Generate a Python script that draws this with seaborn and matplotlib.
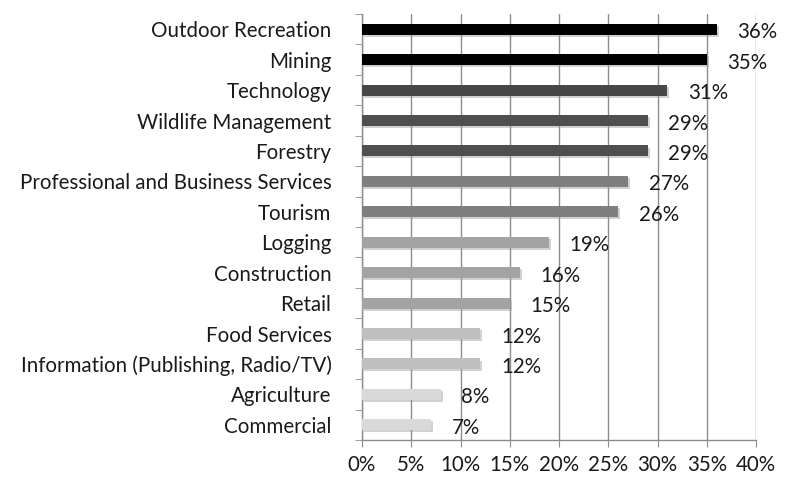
#!/usr/bin/env python3

import numpy as np
import matplotlib
matplotlib.use("Agg")
import matplotlib.pyplot as plt
import matplotlib.patheffects as pe
from matplotlib.ticker import FixedLocator, PercentFormatter
import seaborn as sns

sectors = [
    "Outdoor Recreation", "Mining", "Technology", "Wildlife Management",
    "Forestry", "Professional and Business Services", "Tourism", "Logging",
    "Construction", "Retail", "Food Services",
    "Information (Publishing, Radio/TV)", "Agriculture", "Commercial",
]
shares = [36, 35, 31, 29, 29, 27, 26, 19, 16, 15, 12, 12, 8, 7]
bar_colors = [
    "#000000", "#000000", "#474747", "#4f4f4f", "#4f4f4f", "#7f7f7f", "#7f7f7f",
    "#a3a3a3", "#a3a3a3", "#a3a3a3", "#bfbfbf", "#bfbfbf", "#d9d9d9", "#d9d9d9",
]
x_ticks = [0, 5, 10, 15, 20, 25, 30, 35, 40]

sns.set_style("white")
plt.rcParams["font.family"] = ["Lato", "DejaVu Sans"]
plt.rcParams["text.color"] = "#1a1a1a"

fs = 14.8
fig = plt.figure(figsize=(7.86, 4.79), dpi=100)
ax = fig.add_axes([362 / 786, 1 - 440 / 479, (756 - 362) / 786, (440 - 14) / 479])

sns.barplot(x=shares, y=sectors, hue=sectors, palette=bar_colors,
            legend=False, width=0.36, ax=ax, zorder=3, linewidth=0)

shadow = [pe.SimplePatchShadow(offset=(1.5, -1.5), shadow_rgbFace="#999999", alpha=0.45),
          pe.Normal()]
for bar in ax.patches:
    bar.set_path_effects(shadow)

for i, v in enumerate(shares):
    ax.text(v + 2.1, i + 0.1, f"{v}%", va="center", ha="left", fontsize=fs,
            color="#1a1a1a", zorder=4)

ax.set_xlim(0, 40)
ax.set_ylim(len(sectors) - 0.5, -0.5)
ax.xaxis.set_major_locator(FixedLocator(x_ticks))
ax.xaxis.set_major_formatter(PercentFormatter(decimals=0))
ax.grid(axis="x", color="#8c8c8c", linewidth=1, zorder=0)
ax.grid(axis="y", visible=False)

ax.yaxis.set_minor_locator(FixedLocator(np.arange(-0.5, len(sectors), 1.0)))
ax.tick_params(axis="y", which="major", length=0, pad=22, labelsize=fs,
               labelcolor="#1a1a1a")
ax.tick_params(axis="y", which="minor", left=True, length=5, color="#8c8c8c")
ax.tick_params(axis="x", which="major", bottom=True, length=5, color="#8c8c8c",
               pad=6, labelsize=fs, labelcolor="#1a1a1a")
ax.set_xlabel("")
ax.set_ylabel("")

for side in ["top", "right"]:
    ax.spines[side].set_visible(False)
for side in ["left", "bottom"]:
    ax.spines[side].set_color("#8c8c8c")
    ax.spines[side].set_linewidth(1)

fig.savefig("out.png", dpi=100, facecolor="white")
